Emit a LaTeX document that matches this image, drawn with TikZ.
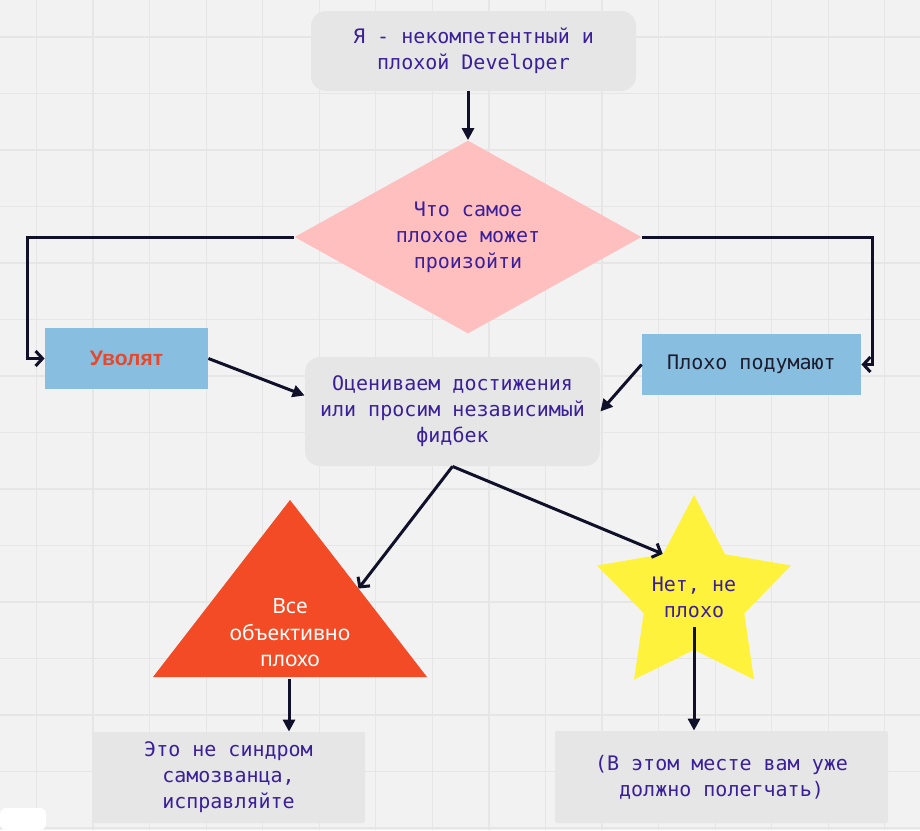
\documentclass[tikz,border=0pt]{standalone}
\usepackage{fontspec}
\setmainfont{DejaVu Sans}
\setmonofont{DejaVu Sans Mono}
\newfontfamily\boldsans{Liberation Sans}
\newfontfamily\trisans{Noto Sans}
\usetikzlibrary{arrows.meta,positioning,shapes.geometric,calc}

\definecolor{boardgray}{HTML}{F2F2F2}
\definecolor{gridgray}{HTML}{E6E6E6}
\definecolor{panelgray}{HTML}{E6E6E6}
\definecolor{pinkfill}{HTML}{FFBFBF}
\definecolor{skyblue}{HTML}{88BFE0}
\definecolor{alarmred}{HTML}{F24B26}
\definecolor{firedred}{HTML}{E8472A}
\definecolor{staryellow}{HTML}{FFF23D}
\definecolor{inkpurple}{HTML}{3A1F9A}
\definecolor{inkdark}{HTML}{1C1C2E}
\definecolor{linkdark}{HTML}{10102A}

\newcommand{\monotext}{\ttfamily\fontsize{10}{13}\selectfont}
\newcommand{\firedtext}{\boldsans\bfseries\fontsize{10.5}{13}\selectfont}
\newcommand{\tritext}{\trisans\fontsize{10.5}{13.25}\selectfont}

\begin{document}
\begin{tikzpicture}[
    x=0.5pt, y=-0.5pt,
    panel/.style={rectangle, rounded corners=7.5pt, fill=panelgray, text=inkpurple, font=\monotext, align=center, inner sep=0pt},
    card/.style={rectangle, rounded corners=1pt, fill=panelgray, text=inkpurple, font=\monotext, align=center, inner sep=0pt},
    bluebox/.style={rectangle, fill=skyblue, align=center, minimum height=30.5pt, inner sep=0pt},
    gridline/.style={draw=gridgray, line width=0.6pt},
    link/.style={draw=linkdark, line width=1.5pt, -{Triangle[length=6pt,width=6pt]}},
    barb/.style={draw=linkdark, line width=1.5pt, -{Straight Barb[length=3.5pt,width=7.5pt]}}
]
% board
\useasboundingbox (0,0) rectangle (920,830);
\fill[boardgray] (0,0) rectangle (920,830);
\foreach \gx in {0,...,15}
    \draw[gridline] ({36.5+56.55*\gx},0) -- ({36.5+56.55*\gx},830);
\foreach \gy in {0,...,14}
    \draw[gridline] (0,{37+56.5*\gy}) -- (920,{37+56.5*\gy});
\fill[white, rounded corners=3pt] (0,830) -- (0,808) -- (46,808) -- (46,830) -- cycle;

% nodes
\node[panel, minimum width=162.5pt, minimum height=40pt] (top) at (473.5,51)
    {Я - некомпетентный и\\плохой Developer};
\node[diamond, aspect=1.8, fill=pinkfill, text=inkpurple, font=\monotext, align=center,
    inner sep=0pt, minimum width=173.5pt, minimum height=96.5pt] (decide) at (468,237)
    {Что самое\\плохое может\\произойти};
\node[bluebox, minimum width=81.5pt, text=firedred, font=\firedtext] (fired) at (126.5,358.5) {Уволят};
\node[bluebox, minimum width=109.5pt, text=inkdark, font=\monotext] (opinion) at (751.5,364.5) {Плохо подумают};
\node[panel, minimum width=147.5pt, minimum height=54.5pt] (assess) at (452.5,411.5)
    {Оцениваем достижения\\или просим независимый\\фидбек};

% triangle
\coordinate (triapex) at (290,500);
\coordinate (trileft) at (153,677);
\coordinate (triright) at (427,677);
\coordinate (trihit) at ($(triapex)!0.5!(triright)$);
\coordinate (tribase) at (289,679);
\fill[alarmred] (triapex) -- (triright) -- (trileft) -- cycle;
\node[text=white, font=\tritext, align=center, inner sep=0pt] (verdict) at (290,633)
    {Все\\объективно\\плохо};

\node[star, star points=5, star point ratio=1.93, minimum size=102pt, inner sep=0pt,
    fill=staryellow,
    label={[text=inkpurple, font=\monotext, align=center]center:{Нет, не\\плохо}}] (relief) at (694,597) {};

\node[card, minimum width=136.5pt, minimum height=45.5pt] (impostor) at (228.5,777.5)
    {Это не синдром\\самозванца,\\исправляйте};
\node[card, minimum width=166.5pt, minimum height=46pt] (calm) at (721.5,777)
    {(В этом месте вам уже\\должно полегчать)};

% connectors
\draw[link] (decide.north |- top.south) -- (decide.north);
\draw[barb] (decide.west) -| ([xshift=-8.5pt]fired.west) -- (fired.west);
\draw[barb] (decide.east) -| ([xshift=5.5pt]opinion.east) -- (opinion.east);
\draw[link] (fired.east) -- ([yshift=8pt]assess.west);
\draw[link] (opinion.west) -- (assess.east);
\draw[barb] (assess.south) -- (trihit);
\draw[barb] (assess.south) -- (relief.inner point 1);
\draw[link] (tribase) -- (tribase |- impostor.north);
\draw[link] ([yshift=-15pt]relief.center) -- (relief.center |- calm.north);
\end{tikzpicture}
\end{document}
